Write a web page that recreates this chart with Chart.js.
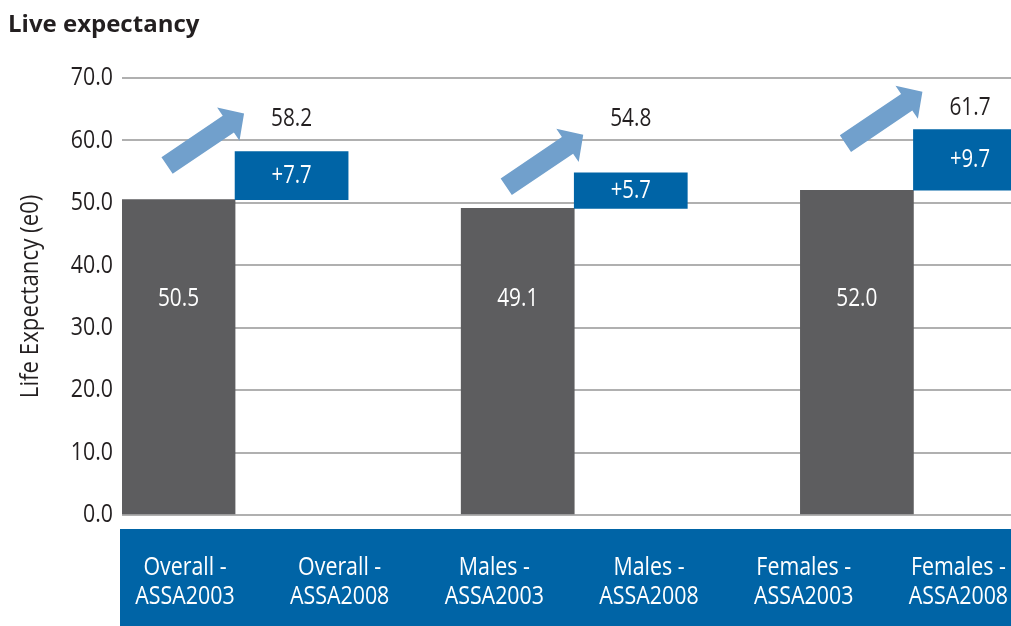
<!DOCTYPE html>
<html lang="en">
<head>
<meta charset="UTF-8">
<title>Live expectancy</title>
<script src="https://cdn.jsdelivr.net/npm/chart.js"></script>
<style>
    html, body { margin: 0; padding: 0; background: #fff; }
    #wrap { width: 1011px; height: 626px; }
</style>
</head>
<body>
<div id="wrap"><canvas id="lifeChart"></canvas></div>
<script>
    // data
    const groups = ['Overall', 'Males', 'Females'];
    const sources = ['ASSA2003', 'ASSA2008'];
    const assa2003 = [50.5, 49.1, 52.0];
    const assa2008 = [58.2, 54.8, 61.7];
    const yTicks = [0, 10, 20, 30, 40, 50, 60, 70];

    const FONT = "'Open Sans', sans-serif";
    const GREY = '#5d5d5f';
    const BLUE = '#0064a6';
    const ARROW = '#71a0cc';
    const INK = '#231f20';

    // two bars per group: grey 0 -> 2003, blue floating 2003 -> 2008
    const barData = [];
    const barColors = [];
    groups.forEach((g, i) => {
        barData.push({ x: i * 3, y: [0, assa2003[i]] });
        barData.push({ x: i * 3 + 1, y: [assa2003[i], assa2008[i]] });
        barColors.push(GREY, BLUE);
    });
    const axisLabels = groups.flatMap(g => sources.map(s => [g + ' -', s]));

    // the original uses a narrow face, so text is squeezed sideways
    function drawText(ctx, text, x, y, size, sx, color, align, rotate) {
        ctx.save();
        ctx.translate(x, y);
        if (rotate) ctx.rotate(rotate);
        ctx.scale(sx, 1);
        ctx.font = size + 'px ' + FONT;
        ctx.fillStyle = color;
        ctx.textAlign = align || 'center';
        ctx.textBaseline = 'middle';
        ctx.fillText(text, 0, 0);
        ctx.restore();
    }

    function drawArrow(ctx, x0, y0, x1, y1) {
        const len = Math.hypot(x1 - x0, y1 - y0);
        const ang = Math.atan2(y1 - y0, x1 - x0);
        const shaft = 10, head = 20, headLen = 19;
        ctx.save();
        ctx.translate(x0, y0);
        ctx.rotate(ang);
        ctx.beginPath();
        ctx.moveTo(0, -shaft);
        ctx.lineTo(len - headLen, -shaft);
        ctx.lineTo(len - headLen, -head);
        ctx.lineTo(len, 0);
        ctx.lineTo(len - headLen, head);
        ctx.lineTo(len - headLen, shaft);
        ctx.lineTo(0, shaft);
        ctx.closePath();
        ctx.fillStyle = ARROW;
        ctx.fill();
        ctx.restore();
    }

    const bandPlugin = {
        id: 'band',
        beforeDraw(chart) {
            const s = chart.scales.x2;
            const ctx = chart.ctx;
            ctx.save();
            ctx.fillStyle = BLUE;
            ctx.fillRect(s.left - 2, s.top + 14, s.right - s.left + 2, s.bottom - s.top - 14);
            ctx.restore();
        }
    };

    const labelPlugin = {
        id: 'labels',
        afterDatasetsDraw(chart) {
            const ctx = chart.ctx;
            const y = chart.scales.y;
            const bars = chart.getDatasetMeta(0).data;
            groups.forEach((g, i) => {
                const grey = bars[i * 2];
                const blue = bars[i * 2 + 1];
                const left = blue.x - blue.width / 2;
                drawArrow(ctx, left - 68, blue.y + 14, left + 9, blue.y - 38);

                drawText(ctx, assa2003[i].toFixed(1), grey.x, y.getPixelForValue(34.6), 26, 0.8, '#fff');
                drawText(ctx, '+' + (assa2008[i] - assa2003[i]).toFixed(1), blue.x, (blue.y + blue.base) / 2, 26, 0.78, '#fff');
                drawText(ctx, assa2008[i].toFixed(1), blue.x, y.getPixelForValue(Math.max(assa2008[i], 60) + 3.5), 26, 0.8, INK);
            });
        }
    };

    // axis text, placed with the scales' own pixel mapping
    const axisTextPlugin = {
        id: 'axisText',
        afterDraw(chart) {
            const ctx = chart.ctx;
            const y = chart.scales.y;
            const x2 = chart.scales.x2;
            y.ticks.forEach(t => {
                drawText(ctx, t.value.toFixed(1), y.right - 9, y.getPixelForValue(t.value), 26, 0.82, INK, 'right');
            });
            drawText(ctx, 'Life Expectancy (e0)', 31, (y.top + y.bottom) / 2, 25, 0.89, INK, 'center', -Math.PI / 2);
            x2.ticks.forEach(t => {
                const lines = axisLabels[t.value];
                const px = x2.getPixelForValue(t.value);
                lines.forEach((line, k) => {
                    drawText(ctx, line, px, x2.top + 53 + k * 29, 25, 0.855, '#fff');
                });
            });
        }
    };

    Chart.defaults.font.family = FONT;
    Chart.defaults.color = INK;

    new Chart(document.getElementById('lifeChart'), {
        type: 'bar',
        data: {
            datasets: [{
                data: barData,
                backgroundColor: barColors,
                barPercentage: 1,
                categoryPercentage: 1,
                xAxisID: 'x',
                yAxisID: 'y'
            }]
        },
        options: {
            responsive: true,
            maintainAspectRatio: false,
            animation: false,
            layout: { padding: { left: 8, right: 0, top: 0, bottom: 0 } },
            plugins: {
                legend: { display: false },
                tooltip: { enabled: false },
                title: {
                    display: true,
                    text: 'Live expectancy',
                    align: 'start',
                    color: INK,
                    font: { family: FONT, size: 24, weight: 'bold' },
                    padding: { top: 11, bottom: 38 }
                }
            },
            scales: {
                x: {
                    type: 'linear',
                    display: false,
                    offset: false,
                    afterBuildTicks: s => {
                        s.ticks = barData.map(d => ({ value: d.x }));
                        s.min = -0.5;
                        s.max = 7.363;
                    }
                },
                x2: {
                    type: 'linear',
                    position: 'bottom',
                    offset: false,
                    min: -0.407,
                    max: 5.34,
                    grid: { display: false, drawTicks: false },
                    border: { display: false },
                    afterBuildTicks: s => {
                        s.ticks = axisLabels.map((l, i) => ({ value: i }));
                        s.min = -0.407;
                        s.max = 5.34;
                    },
                    afterFit: s => { s.height = 111; },
                    ticks: { display: false }
                },
                y: {
                    min: 0,
                    max: 70,
                    afterBuildTicks: s => { s.ticks = yTicks.map(v => ({ value: v })); },
                    afterFit: s => { s.width = 114; },
                    grid: { color: '#b0b0b0', lineWidth: 2, drawTicks: false },
                    border: { display: false },
                    ticks: { display: false }
                }
            }
        },
        plugins: [bandPlugin, labelPlugin, axisTextPlugin]
    });
</script>
</body>
</html>
